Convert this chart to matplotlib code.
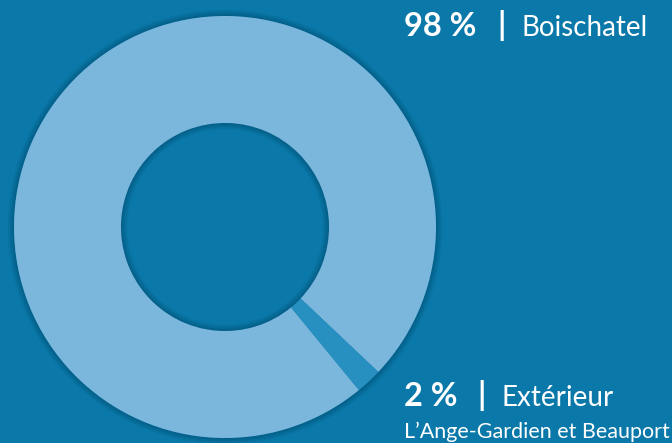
import numpy as np
import matplotlib.pyplot as plt
from matplotlib.patches import Wedge

# data
labels = ['Boischatel', 'Extérieur']
shares = [98, 2]
pct_labels = ['98 %', '2 %']
sub_label = 'L\u2019Ange-Gardien et Beauport'

bg_col = '#0a78a9'
col_dic = {0: '#7bb7dd', 1: '#2890c0'}

fig = plt.figure(figsize=(6.72, 4.43), dpi=100)
fig.patch.set_facecolor(bg_col)

W, H = 672, 443
cx, cy, R = 225, 227, 211
ax = fig.add_axes([(cx - R) / W, (H - cy - R) / H, 2 * R / W, 2 * R / H])
ax.set_facecolor(bg_col)

ring = 107 / 211
inner = 1 - ring

# soft shadow just outside the ring
for i in range(6):
    ax.add_patch(Wedge((0, 0), 1 + 0.005 * (i + 1), 0, 360, width=0.005 * (i + 1),
                       color='black', alpha=0.03, lw=0, clip_on=False))

wedges, _ = ax.pie(shares, colors=[col_dic[0], col_dic[1]], startangle=-43.4,
                   radius=1, wedgeprops=dict(width=ring, linewidth=0))
for w in wedges:
    w.set_clip_on(False)

# inner hole shadow (thin rings along the edge)
for i in range(6):
    ax.add_patch(Wedge((0, 0), inner, 0, 360, width=0.005 * (i + 1), color='black', alpha=0.03, lw=0))

ax.set_xlim(-1, 1)
ax.set_ylim(-1, 1)
ax.set_aspect('equal')
ax.axis('off')

fam = ['Lato', 'DejaVu Sans']
white = '#ffffff'

def ytop(px):
    return 1 - px / H

# top label
fig.text(404 / W, ytop(36), pct_labels[0], fontsize=23.5, fontweight='bold', color=white, family=fam, va='baseline')
fig.text(497 / W, ytop(36), '|', fontsize=23, fontweight='bold', color=white, family=fam, va='baseline')
fig.text(521 / W, ytop(36), labels[0], fontsize=20, fontweight='normal', color=white, family=fam, va='baseline')

# bottom label
fig.text(404 / W, ytop(406), pct_labels[1], fontsize=23.5, fontweight='bold', color=white, family=fam, va='baseline')
fig.text(477 / W, ytop(406), '|', fontsize=23, fontweight='bold', color=white, family=fam, va='baseline')
fig.text(501 / W, ytop(406), labels[1], fontsize=20, fontweight='normal', color=white, family=fam, va='baseline')
fig.text(404 / W, ytop(438), sub_label, fontsize=15.5, fontweight='normal', color=white, family=fam, va='baseline')

fig.savefig('out.png', dpi=100, facecolor=bg_col)
